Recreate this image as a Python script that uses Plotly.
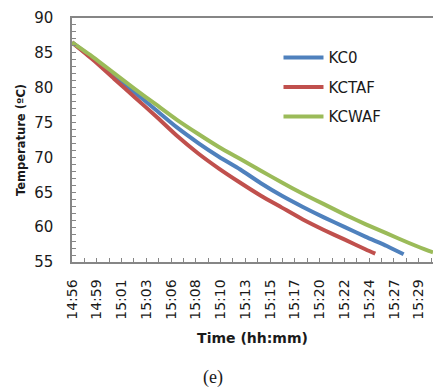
import plotly.graph_objects as go

# elapsed minutes since 14:56 and temperatures (°C)
t_kc0 = [0, 2, 4, 6, 8, 10, 12, 14, 16, 18, 20, 22, 24, 26, 28, 30, 31.6]
v_kc0 = [86.5, 84.2, 81.8, 79.3, 76.8, 74.3, 72.1, 70.1, 68.3, 66.3, 64.5, 62.9, 61.4, 60.0, 58.6, 57.3, 56.1]

t_kctaf = [0, 2, 4, 6, 8, 10, 12, 14, 16, 18, 20, 22, 24, 26, 28, 28.9]
v_kctaf = [86.5, 84.0, 81.3, 78.6, 75.9, 73.1, 70.6, 68.4, 66.4, 64.5, 62.8, 61.1, 59.6, 58.2, 56.8, 56.2]

t_kcwaf = [0, 2, 4, 6, 8, 10, 12, 14, 16, 18, 20, 22, 24, 26, 28, 30, 32, 34, 34.4]
v_kcwaf = [86.5, 84.4, 82.1, 79.8, 77.6, 75.4, 73.4, 71.5, 69.8, 68.1, 66.4, 64.8, 63.3, 61.8, 60.4, 59.1, 57.8, 56.6, 56.4]

tick_labels = ["14:56", "14:59", "15:01", "15:03", "15:06", "15:08", "15:10", "15:13",
               "15:15", "15:17", "15:20", "15:22", "15:24", "15:27", "15:29"]
tick_step = 2.36  # minutes between labelled categories

series = [
    ("KC0", t_kc0, v_kc0, "#4F81BD"),
    ("KCTAF", t_kctaf, v_kctaf, "#C0504D"),
    ("KCWAF", t_kcwaf, v_kcwaf, "#9BBB59"),
]

fig = go.Figure()
for name, t, v, c in series:
    fig.add_trace(go.Scatter(x=t, y=v, mode="lines", name=name, legendgroup=name,
                             line=dict(color=c, width=4, shape="spline", smoothing=0.6)))

tickvals = [i * tick_step for i in range(len(tick_labels))]
minor_vals = [(i + 0.5) * tick_step for i in range(len(tick_labels))]

axis_color = "#868686"
fig.update_layout(
    width=433, height=392,
    margin=dict(l=72, r=0, t=18, b=130),
    paper_bgcolor="white", plot_bgcolor="white",
    font=dict(family="DejaVu Sans", color="#1a1a1a"),
    showlegend=True,
    legend=dict(x=0.572, y=0.905, xanchor="left", yanchor="top",
                font=dict(size=15, family="DejaVu Sans", color="#1a1a1a"),
                itemwidth=40,
                tracegroupgap=7, traceorder="grouped", bgcolor="rgba(0,0,0,0)"),
    xaxis=dict(range=[0, 34.4], showgrid=False, zeroline=False,
               showline=True, linecolor=axis_color, linewidth=1.5, mirror=True,
               tickmode="array", tickvals=tickvals, ticktext=tick_labels,
               tickangle=-90, ticks="inside", ticklen=4, tickcolor=axis_color,
               ticklabelstandoff=10,
               tickfont=dict(size=14, family="DejaVu Sans", color="#1a1a1a"),
               minor=dict(tickvals=minor_vals, ticks="inside", ticklen=4, tickcolor=axis_color),
               title=dict(text="<b>Time (hh:mm)</b>", standoff=14,
                          font=dict(size=14, family="DejaVu Sans", color="#1a1a1a"))),
    yaxis=dict(range=[55, 90], showgrid=False, zeroline=False,
               showline=True, linecolor=axis_color, linewidth=1.5, mirror=False,
               tickmode="linear", tick0=55, dtick=5,
               ticks="inside", ticklen=4, tickcolor=axis_color,
               ticklabelstandoff=14,
               tickfont=dict(size=15, family="DejaVu Sans", color="#1a1a1a"),
               minor=dict(dtick=1, ticks="inside", ticklen=4, tickcolor=axis_color),
               title=dict(text="<b>Temperature (ºC)</b>", standoff=6,
                          font=dict(size=11.5, family="DejaVu Sans", color="#1a1a1a"))),
    annotations=[dict(text="(e)", xref="paper", yref="paper", x=(213 - 72) / 361, y=-(378 - 262) / 244,
                      xanchor="center", yanchor="middle", showarrow=False,
                      font=dict(size=18, family="Liberation Serif", color="#1a1a1a"))],
)

fig.write_html("out.html")
